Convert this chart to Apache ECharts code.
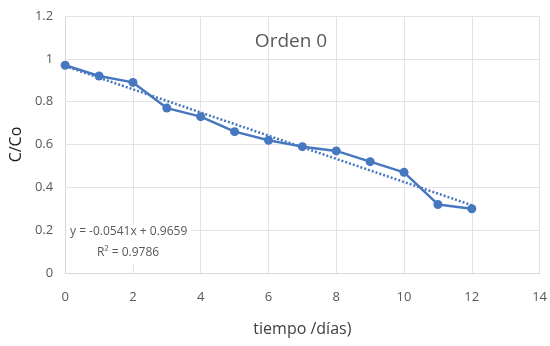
<!DOCTYPE html>
<html>
<head>
<meta charset="utf-8">
<script src="https://cdn.jsdelivr.net/npm/echarts@6/dist/echarts.min.js"></script>
<style>
  html, body { margin: 0; padding: 0; background: #fff; }
  #chart { width: 550px; height: 346px; }
</style>
</head>
<body>
<div id="chart"></div>
<script>
// Measured concentration ratio over time
const tiempo = [0, 1, 2, 3, 4, 5, 6, 7, 8, 9, 10, 11, 12];
const cCo = [0.97, 0.92, 0.89, 0.77, 0.73, 0.66, 0.62, 0.59, 0.57, 0.52, 0.47, 0.32, 0.30];

// Linear fit (zero-order kinetics)
const slope = -0.0541;
const intercept = 0.9659;
const r2 = 0.9786;
const fitRange = [0, 12];

const xTicks = [0, 2, 4, 6, 8, 10, 12, 14];
const yTicks = [0, 0.2, 0.4, 0.6, 0.8, 1, 1.2];

const fitLine = fitRange.map(x => [x, intercept + slope * x]);
const points = tiempo.map((t, i) => [t, cCo[i]]);

const FONT = 'Open Sans';
const BLUE = '#4677BF';
const GRAY = '#595959';

const chart = echarts.init(document.getElementById('chart'), null, { renderer: 'canvas' });
chart.setOption({
  animation: false,
  backgroundColor: '#fff',
  title: {
    text: 'Orden 0',
    left: 286, top: 27, textAlign: 'center',
    textStyle: { fontFamily: FONT, fontSize: 19, fontWeight: 'normal', color: GRAY }
  },
  grid: { left: 62, right: 10, top: 16, bottom: 73 },
  xAxis: {
    type: 'value', min: xTicks[0], max: xTicks[xTicks.length - 1], interval: 2,
    name: 'tiempo /días)', nameLocation: 'middle', nameGap: 48,
    nameTextStyle: { fontFamily: FONT, fontSize: 16, color: '#404040' },
    axisLine: { show: true, lineStyle: { color: '#d9d9d9', width: 1 } },
    axisTick: { show: false },
    axisLabel: { fontFamily: FONT, fontSize: 13, color: GRAY, margin: 18,
      formatter: v => String(v) },
    splitLine: { show: true, lineStyle: { color: '#e3e3e3', width: 1 } }
  },
  yAxis: {
    type: 'value', min: yTicks[0], max: yTicks[yTicks.length - 1], interval: 0.2,
    name: 'C/Co', nameLocation: 'middle', nameGap: 37, nameRotate: 90,
    nameTextStyle: { fontFamily: FONT, fontSize: 16, color: '#1a1a1a' },
    axisLine: { show: true, lineStyle: { color: '#d9d9d9', width: 1 } },
    axisTick: { show: false },
    axisLabel: { fontFamily: FONT, fontSize: 13, color: GRAY, margin: 12,
      formatter: v => String(Math.round(v * 10) / 10) },
    splitLine: { show: true, lineStyle: { color: '#e3e3e3', width: 1 } }
  },
  series: [
    {
      type: 'line', data: fitLine, symbol: 'none',
      lineStyle: { color: BLUE, width: 2.5, type: [2, 2] },
      z: 2
    },
    {
      type: 'line', data: points, symbol: 'circle', symbolSize: 9,
      lineStyle: { color: BLUE, width: 2.5 },
      itemStyle: { color: BLUE },
      z: 3
    }
  ],
  graphic: [
    {
      // white box behind the regression label, hiding gridlines
      type: 'rect', left: 67, top: 225, z: 10,
      shape: { width: 124, height: 40 },
      style: { fill: '#fff' }
    },
    {
      type: 'text', left: 70, top: 226, z: 11,
      style: { text: 'y = ' + slope.toFixed(4) + 'x + ' + intercept.toFixed(4),
        fontFamily: FONT, fontSize: 12, fill: GRAY }
    },
    {
      type: 'text', left: 97, top: 247, z: 11,
      style: { text: 'R² = ' + r2.toFixed(4), fontFamily: FONT, fontSize: 12, fill: GRAY }
    }
  ]
});
</script>
</body>
</html>
